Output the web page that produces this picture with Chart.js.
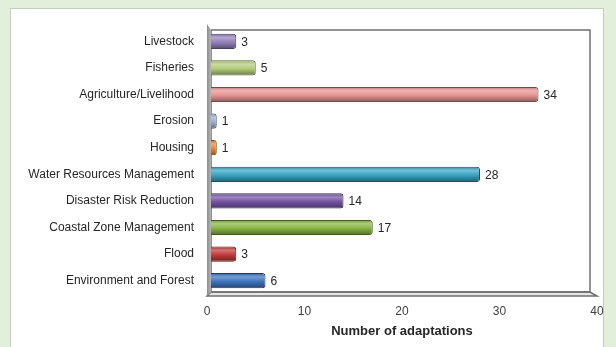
<!DOCTYPE html>
<html>
<head>
<meta charset="utf-8">
<script src="https://cdn.jsdelivr.net/npm/chart.js"></script>
<style>
  html, body { margin: 0; padding: 0; }
  body { width: 616px; height: 347px; background: #e2efda; position: relative; overflow: hidden; }
  .panel { position: absolute; left: 10px; top: 8px; width: 592px; height: 360px; background: #fff; border: 1px solid #c5cdc1; }
  #chart { position: absolute; left: 0; top: 0; }
</style>
</head>
<body>
<div class="panel"></div>
<canvas id="chart" width="616" height="347"></canvas>
<script>
const sectors = ['Livestock', 'Fisheries', 'Agriculture/Livelihood', 'Erosion', 'Housing',
  'Water Resources Management', 'Disaster Risk Reduction', 'Coastal Zone Management', 'Flood', 'Environment and Forest'];
const adaptations = [3, 5, 34, 1, 1, 28, 14, 17, 3, 6];
const barColors = ['#9482bb', '#b3cc78', '#e69492', '#97b1da', '#ea8a2c',
  '#38a4c1', '#7453a3', '#8ab444', '#c2383a', '#3d74bd'];
const xTicks = [0, 10, 20, 30, 40];

const FONT = '"Liberation Sans", Arial, sans-serif';

// mix a hex colour towards white (f > 0) or black (f < 0)
function shade(hex, f) {
  const n = parseInt(hex.slice(1), 16);
  let r = n >> 16, g = (n >> 8) & 255, b = n & 255;
  const t = f < 0 ? 0 : 255, p = Math.abs(f);
  r = Math.round(r + (t - r) * p);
  g = Math.round(g + (t - g) * p);
  b = Math.round(b + (t - b) * p);
  return `rgb(${r},${g},${b})`;
}

// cylinder-like shading across each bar
function barFill(ctx) {
  const base = barColors[ctx.dataIndex];
  const chart = ctx.chart;
  const y = chart.scales.y;
  if (!y || ctx.type !== 'data') return base;
  const c = y.getPixelForValue(ctx.dataIndex);
  if (!isFinite(c)) return base;
  const h = 7.5;
  const g = chart.ctx.createLinearGradient(0, c - h, 0, c + h);
  g.addColorStop(0, shade(base, -0.15));
  g.addColorStop(0.25, shade(base, 0.3));
  g.addColorStop(0.55, base);
  g.addColorStop(1, shade(base, -0.4));
  return g;
}

// back wall frame, floor and left wall of the 3-D plot
const frame3d = {
  id: 'frame3d',
  beforeDatasetsDraw(chart) {
    const { ctx, chartArea: a } = chart;
    const d = 4;
    ctx.save();
    // floor
    ctx.fillStyle = '#e6e6e6';
    ctx.beginPath();
    ctx.moveTo(a.left, a.bottom + 2);
    ctx.lineTo(a.left + d, a.bottom - d + 2);
    ctx.lineTo(a.right - 7, a.bottom - d + 2);
    ctx.lineTo(a.right, a.bottom + 2);
    ctx.closePath();
    ctx.fill();
    ctx.strokeStyle = '#6f6f6f';
    ctx.lineWidth = 1.5;
    ctx.stroke();
    // back wall outline
    ctx.strokeRect(a.left + d, a.top + 2, a.right - 7 - a.left - d, a.bottom - a.top - d);
    ctx.restore();
  },
  afterDatasetsDraw(chart) {
    const { ctx, chartArea: a } = chart;
    const d = 4;
    ctx.save();
    // left wall
    const g = ctx.createLinearGradient(a.left, 0, a.left + d, 0);
    g.addColorStop(0, '#8c8c8c');
    g.addColorStop(1, '#b4b4b4');
    ctx.fillStyle = g;
    ctx.beginPath();
    ctx.moveTo(a.left, a.top - 4);
    ctx.lineTo(a.left + d, a.top + 2);
    ctx.lineTo(a.left + d, a.bottom - d + 2);
    ctx.lineTo(a.left, a.bottom + 2);
    ctx.closePath();
    ctx.fill();
    // value labels
    ctx.fillStyle = '#262626';
    ctx.font = '12px ' + FONT;
    ctx.textBaseline = 'middle';
    chart.getDatasetMeta(0).data.forEach((bar, i) => {
      ctx.fillText(String(adaptations[i]), bar.x + 5, bar.y + 1);
    });
    ctx.restore();
  }
};

new Chart(document.getElementById('chart'), {
  type: 'bar',
  data: {
    labels: sectors,
    datasets: [{
      data: adaptations,
      backgroundColor: barFill,
      borderColor: barColors.map(c => shade(c, -0.5)),
      borderWidth: 1,
      borderRadius: 3,
      borderSkipped: false,
      categoryPercentage: 1,
      barPercentage: 0.57
    }]
  },
  options: {
    indexAxis: 'y',
    responsive: false,
    animation: false,
    layout: { padding: { top: 28, right: 19, left: 0, bottom: 0 } },
    plugins: { legend: { display: false }, tooltip: { enabled: false } },
    scales: {
      x: {
        min: 0,
        max: 40,
        afterBuildTicks: s => { s.ticks = xTicks.map(v => ({ value: v })); },
        afterFit: s => { s.height = 53; },
        grid: { display: false, drawTicks: false },
        border: { display: false },
        ticks: { color: '#404040', padding: 10, font: { family: FONT, size: 12 } },
        title: {
          display: true,
          text: 'Number of adaptations',
          color: '#262626',
          padding: { top: 0, bottom: 8 },
          font: { family: FONT, size: 13, weight: 'bold' }
        }
      },
      y: {
        afterFit: s => { s.width = 207; },
        grid: { display: false, drawTicks: false },
        border: { display: false },
        ticks: { color: '#262626', padding: 13, autoSkip: false, font: { family: FONT, size: 12 } }
      }
    }
  },
  plugins: [frame3d]
});
</script>
</body>
</html>
